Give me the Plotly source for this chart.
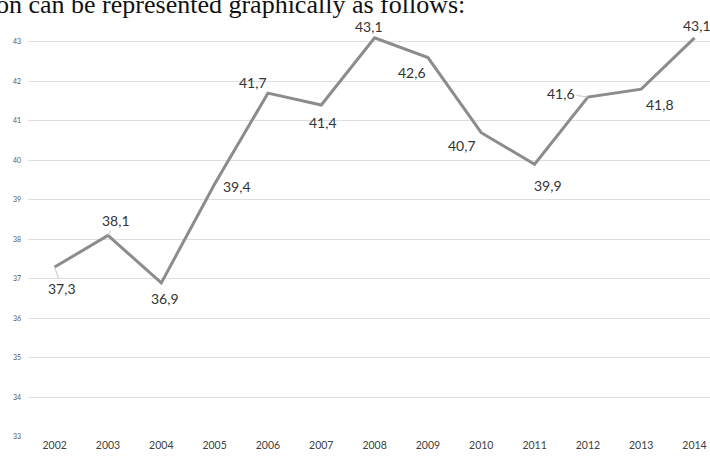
import plotly.graph_objects as go

years = ["2002", "2003", "2004", "2005", "2006", "2007", "2008",
         "2009", "2010", "2011", "2012", "2013", "2014"]
values = [37.3, 38.1, 36.9, 39.4, 41.7, 41.4, 43.1,
          42.6, 40.7, 39.9, 41.6, 41.8, 43.1]
y_ticks = [33, 34, 35, 36, 37, 38, 39, 40, 41, 42, 43]

# label offsets (pixels) from each point, and whether a leader line is drawn
label_dx = [7, 8, 4, 22, -15, 2, -6, -16, -19, 13, -27, 19, 2]
label_dy = [21, -15, 16, 2, -11, 17, -11, 15, 13, 21, -4, 15, -12]
leader = [True, True, False, False, False, False, False,
          False, False, False, True, False, False]

fig = go.Figure()
fig.add_trace(go.Scatter(
    x=years, y=values, mode="lines",
    line=dict(color="#8c8c8c", width=3),
    hoverinfo="skip", showlegend=False,
))

annotations = []
for i, (v, dx, dy, ld) in enumerate(zip(values, label_dx, label_dy, leader)):
    # category axis: position the label by category index
    annotations.append(dict(
        x=i, y=v, xref="x", yref="y",
        text=f"{v:.1f}".replace(".", ","),
        showarrow=True, ax=dx, ay=dy,
        arrowhead=0, arrowwidth=1, standoff=0,
        arrowcolor="#c8c8c8" if ld else "rgba(0,0,0,0)",
        font=dict(family="Lato", size=14, color="#333333"),
    ))

# running sentence from the surrounding document
annotations.append(dict(
    x=0, y=1, xref="paper", yref="paper",
    xanchor="left", yanchor="bottom", xshift=-34, yshift=1,
    text="on can be represented graphically as follows:",
    showarrow=False,
    font=dict(family="Liberation Serif", size=26, color="#111111"),
))

fig.update_layout(
    width=710, height=460,
    margin=dict(l=28, r=0, t=22, b=23),
    paper_bgcolor="white", plot_bgcolor="white",
    annotations=annotations,
    xaxis=dict(
        type="category", range=[-0.5, 12.29],
        showgrid=False, showline=False, zeroline=False, ticks="",
        tickfont=dict(family="Lato", size=10.5, color="#404040"),
    ),
    yaxis=dict(
        range=[33, 43.5], tickvals=y_ticks,
        showgrid=True, gridcolor="#dedede", gridwidth=1,
        zeroline=False, showline=False, ticks="",
        ticklabelstandoff=6,
        tickfont=dict(family="Lato", size=7, color="#595959"),
    ),
)

fig.write_html("out.html")
